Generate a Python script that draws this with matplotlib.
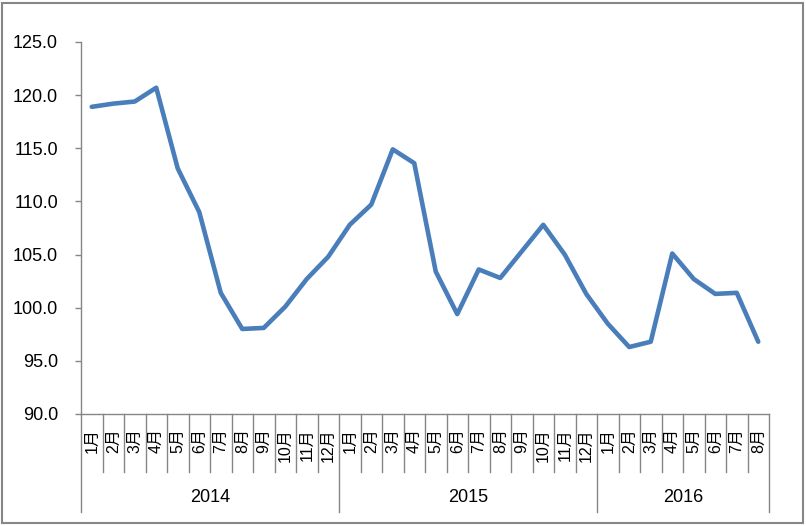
import matplotlib
matplotlib.use("Agg")
import matplotlib.pyplot as plt
from matplotlib.patches import Rectangle
from matplotlib.ticker import FormatStrFormatter

plt.rcParams['font.family'] = ['Liberation Sans', 'Noto Sans CJK SC', 'DejaVu Sans']

years = ["2014", "2015", "2016"]
months_per_year = [12, 12, 8]
month_labels = [f"{m}月" for n in months_per_year for m in range(1, n + 1)]
values = [118.9, 119.2, 119.4, 120.7, 113.1, 109.0, 101.4, 98.0, 98.1, 100.1, 102.7, 104.8,
          107.8, 109.7, 114.9, 113.6, 103.4, 99.4, 103.6, 102.8, 105.3, 107.8, 105.0, 101.3,
          98.5, 96.3, 96.8, 105.1, 102.7, 101.3, 101.4, 96.8]

W, H = 806, 526
fig = plt.figure(figsize=(W / 100, H / 100), dpi=100)
left, right, top, bottom = 81, 769, 42, 414
ax = fig.add_axes([left / W, 1 - bottom / H, (right - left) / W, (bottom - top) / H])

gray = '#868686'
n = len(values)
xs = [i + 0.5 for i in range(n)]
ax.plot(xs, values, color='#4A7EBB', lw=3.3, solid_joinstyle='round', solid_capstyle='round', clip_on=False)

ax.set_xlim(0, n)
ax.set_ylim(90, 125)
ax.set_yticks(range(90, 126, 5))
ax.yaxis.set_major_formatter(FormatStrFormatter('%.1f'))
ax.tick_params(axis='y', direction='out', length=4.5, width=1, color=gray, pad=12, labelsize=13, labelcolor='#000000')
ax.set_xticks([])
for s in ['top', 'right']:
    ax.spines[s].set_visible(False)
for s in ['left', 'bottom']:
    ax.spines[s].set_color(gray)
    ax.spines[s].set_linewidth(1)

axh = bottom - top
trans = ax.get_xaxis_transform()
month_sep = -(472 - bottom) / axh
year_sep = -(512 - bottom) / axh
year_bounds = [0]
for c in months_per_year:
    year_bounds.append(year_bounds[-1] + c)
for b in range(n + 1):
    yb = year_sep if b in year_bounds else month_sep
    ax.plot([b, b], [0, yb], color=gray, lw=1, transform=trans, clip_on=False)

lab_top = -(428 - bottom) / axh
for i, lab in enumerate(month_labels):
    ax.text(i + 0.5, lab_top, lab, rotation=90, ha='center', va='top', fontsize=11.5,
            transform=trans, color='#000000')

year_y = -(497 - bottom) / axh
for k, yr in enumerate(years):
    mid = (year_bounds[k] + year_bounds[k + 1]) / 2
    ax.text(mid, year_y, yr, ha='center', va='center', fontsize=13, transform=trans, color='#000000')

fig.patches.append(Rectangle((2 / W, 3 / H), (803 - 2) / W, (523 - 3) / H, transform=fig.transFigure,
                             fill=False, edgecolor=gray, lw=1.5))

fig.savefig('out.png', dpi=100)
